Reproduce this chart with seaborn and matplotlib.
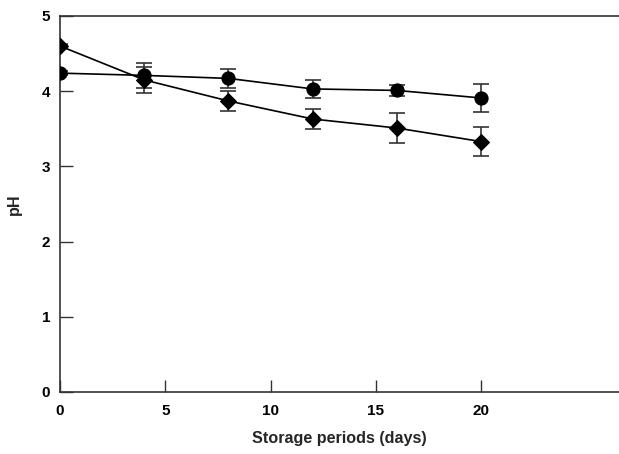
import numpy as np
import pandas as pd
import matplotlib
matplotlib.use("Agg")
import matplotlib.pyplot as plt
import seaborn as sns

days = [0, 4, 8, 12, 16, 20]
ph_circle = [4.24, 4.21, 4.17, 4.03, 4.01, 3.91]
sd_circle = [0.03, 0.17, 0.13, 0.12, 0.07, 0.19]
ph_diamond = [4.60, 4.15, 3.87, 3.63, 3.51, 3.33]
sd_diamond = [0.03, 0.17, 0.13, 0.13, 0.20, 0.19]

df = pd.DataFrame({
    "day": days * 2,
    "pH": ph_circle + ph_diamond,
    "group": ["circle"] * len(days) + ["diamond"] * len(days),
})

sns.set_style("ticks")
plt.rcParams["font.family"] = ["Liberation Sans", "DejaVu Sans"]
plt.rcParams["font.weight"] = "bold"

fig = plt.figure(figsize=(6.19, 4.54), dpi=100)
ax = fig.add_axes([0.097, 0.1366, 0.903, 0.8282])

# error bars first, so the markers sit on top
ax.errorbar(days, ph_circle, yerr=sd_circle, fmt="none", ecolor="#333333",
            elinewidth=1.2, capsize=6, capthick=1.2, zorder=2)
ax.errorbar(days, ph_diamond, yerr=sd_diamond, fmt="none", ecolor="#333333",
            elinewidth=1.2, capsize=6, capthick=1.2, zorder=2)

sns.lineplot(data=df, x="day", y="pH", style="group", hue="group",
             palette={"circle": "black", "diamond": "black"},
             markers={"circle": "o", "diamond": "D"},
             dashes=False, markersize=9.5, markeredgecolor="black",
             linewidth=1.2, legend=False, ax=ax, zorder=3)
for line in ax.lines:
    if line.get_marker() == "D":
        line.set_markersize(8)

ax.set_xlim(0, 26.55)
ax.set_ylim(0, 5)
ax.set_xticks([0, 5, 10, 15, 20])
ax.set_yticks([0, 1, 2, 3, 4, 5])
ax.tick_params(direction="in", length=9, width=1, colors="#333333",
               labelcolor="black", labelsize=11)
ax.tick_params(axis="x", pad=9)
ax.tick_params(axis="y", pad=7)
for lab in ax.get_xticklabels() + ax.get_yticklabels():
    lab.set_fontweight("bold")

ax.spines["right"].set_visible(False)
for s in ["left", "bottom", "top"]:
    ax.spines[s].set_color("#333333")
    ax.spines[s].set_linewidth(1.2)

ax.set_xlabel("Storage periods (days)", fontsize=11.6, fontweight="bold", labelpad=9)
ax.set_ylabel("pH", fontsize=11.6, fontweight="bold", labelpad=14)

fig.savefig("out.png", dpi=100)
plt.close(fig)
